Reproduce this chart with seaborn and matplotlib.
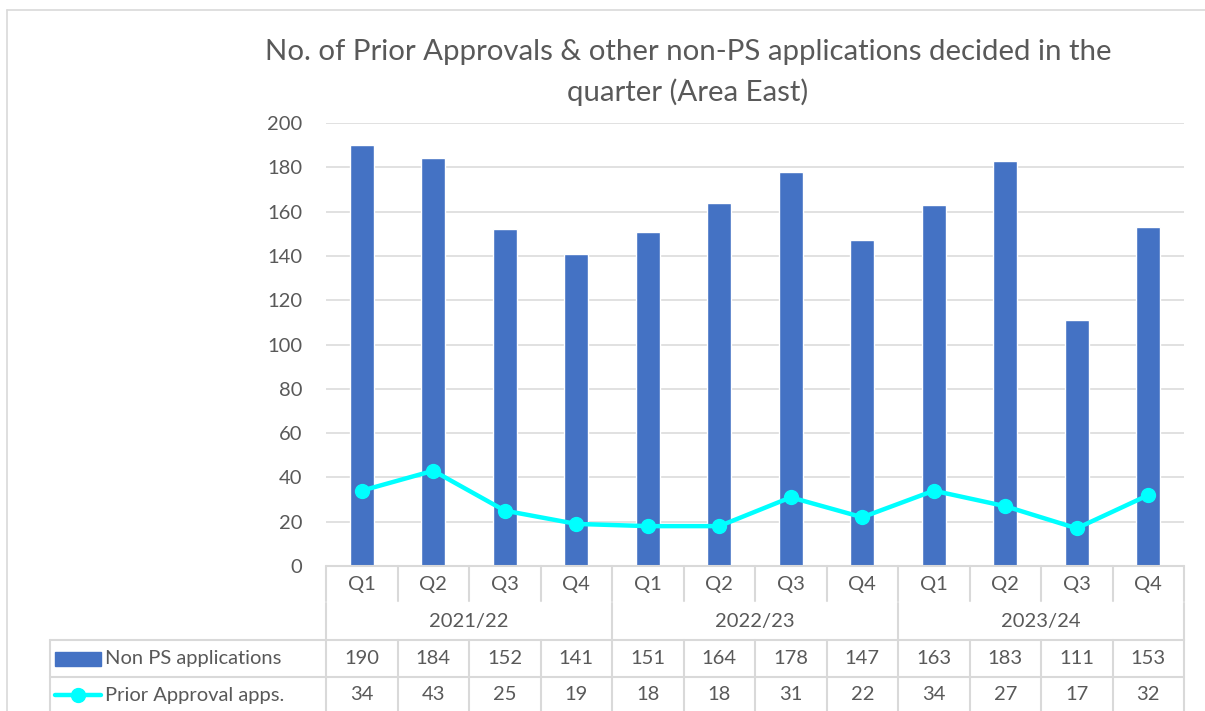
import matplotlib
matplotlib.use('Agg')
import matplotlib.pyplot as plt
from matplotlib.lines import Line2D
import matplotlib.transforms as mtransforms
import seaborn as sns
import pandas as pd

# data
quarters = ['Q1', 'Q2', 'Q3', 'Q4'] * 3
years = ['2021/22', '2022/23', '2023/24']
non_ps = [190, 184, 152, 141, 151, 164, 178, 147, 163, 183, 111, 153]
prior_approval = [34, 43, 25, 19, 18, 18, 31, 22, 34, 27, 17, 32]
series_names = ['Non PS applications', 'Prior Approval apps.']

df = pd.DataFrame({'pos': range(len(non_ps)), 'non_ps': non_ps, 'prior': prior_approval})

sns.set_style('white')
plt.rcParams['font.family'] = ['Lato', 'DejaVu Sans']

W, H = 1205, 711
fig = plt.figure(figsize=(W / 100, H / 100), dpi=100)

ax_left, ax_right, ax_top, ax_bot = 326, 1184, 123, 566
ax = fig.add_axes([ax_left / W, 1 - ax_bot / H, (ax_right - ax_left) / W, (ax_bot - ax_top) / H])

blue = '#4472C4'
cyan = '#00FFFF'
txt = '#595959'
grid = '#D9D9D9'

sns.barplot(data=df, x='pos', y='non_ps', color=blue, width=0.34, saturation=1, ax=ax, zorder=2)
ax.plot(df['pos'], df['prior'], color=cyan, lw=3.2, marker='o', ms=10, zorder=3, solid_capstyle='round')

ax.set_xlim(-0.5, 11.5)
ax.set_ylim(0, 200)
ax.set_yticks(range(0, 201, 20))
ax.yaxis.grid(True, color=grid, lw=1.1, zorder=0)
ax.set_axisbelow(True)
ax.tick_params(axis='y', length=0, pad=17, labelsize=14.5, labelcolor=txt)
ax.set_xticks([])
ax.set_xlabel('')
ax.set_ylabel('')
for s in ['top', 'right', 'left', 'bottom']:
    ax.spines[s].set_visible(False)

# data table below the plot
trans = mtransforms.blended_transform_factory(ax.transData, ax.transAxes)
ph = ax_bot - ax_top


def fy(py):
    return (ax_bot - py) / ph


def hline(x0, x1, py):
    ax.add_line(Line2D([x0, x1], [fy(py), fy(py)], transform=trans, color=grid, lw=1.5, clip_on=False))


def vline(x, py0, py1):
    ax.add_line(Line2D([x, x], [fy(py0), fy(py1)], transform=trans, color=grid, lw=1.5, clip_on=False))


px_per_unit = (ax_right - ax_left) / 12
leg_x0 = -0.5 - (ax_left - 50) / px_per_unit
rows = [566, 603, 640, 677, 715]

hline(-0.5, 11.5, rows[0])
hline(leg_x0, 11.5, rows[2])
hline(leg_x0, 11.5, rows[3])
for i in range(13):
    vline(i - 0.5, rows[0], rows[1] - 2)
for i in range(0, 13, 4):
    vline(i - 0.5, rows[1], rows[2])
for i in range(13):
    vline(i - 0.5, rows[2], rows[4])
vline(leg_x0, rows[2], rows[4])

fs = 14.5
for i, q in enumerate(quarters):
    ax.text(i, fy((rows[0] + rows[1]) / 2), q, transform=trans, ha='center', va='center', fontsize=fs, color=txt)
    ax.text(i, fy((rows[2] + rows[3]) / 2), str(non_ps[i]), transform=trans, ha='center', va='center', fontsize=fs, color=txt)
    ax.text(i, fy((rows[3] + rows[4]) / 2 - 1), str(prior_approval[i]), transform=trans, ha='center', va='center', fontsize=fs, color=txt)
for j, y in enumerate(years):
    ax.text(4 * j + 1.5, fy((rows[1] + rows[2]) / 2), y, transform=trans, ha='center', va='center', fontsize=fs, color=txt)

# legend keys inside the table
key_x0 = leg_x0 + 5 / px_per_unit
key_x1 = leg_x0 + 51 / px_per_unit
ym = fy((rows[2] + rows[3]) / 2)
ax.add_patch(plt.Rectangle((key_x0, fy(666)), key_x1 - key_x0, fy(652) - fy(666), transform=trans,
                           color=blue, clip_on=False))
ax.text(key_x1 + 4 / px_per_unit, ym, series_names[0], transform=trans, ha='left', va='center', fontsize=fs, color=txt)
ym2 = fy((rows[3] + rows[4]) / 2 - 1)
ax.add_line(Line2D([key_x0, key_x1], [ym2, ym2], transform=trans, color=cyan, lw=3.2, clip_on=False))
ax.add_line(Line2D([(key_x0 + key_x1) / 2], [ym2], transform=trans, color=cyan, marker='o', ms=10, clip_on=False))
ax.text(key_x1 + 4 / px_per_unit, ym2, series_names[1], transform=trans, ha='left', va='center', fontsize=fs, color=txt)

# title
fig.text(688 / W, 1 - 52 / H, 'No. of Prior Approvals & other non-PS applications decided in the',
         ha='center', va='center', fontsize=21.2, color=txt)
fig.text(688 / W, 1 - 92 / H, 'quarter (Area East)', ha='center', va='center', fontsize=21.2, color=txt)

# chart area border
fig.add_artist(Line2D([7 / W, 7 / W], [0, 1 - 10 / H], transform=fig.transFigure, color=grid, lw=1.2))
fig.add_artist(Line2D([7 / W, 1], [1 - 10 / H, 1 - 10 / H], transform=fig.transFigure, color=grid, lw=1.2))

fig.savefig('out.png', dpi=100, facecolor='white')
